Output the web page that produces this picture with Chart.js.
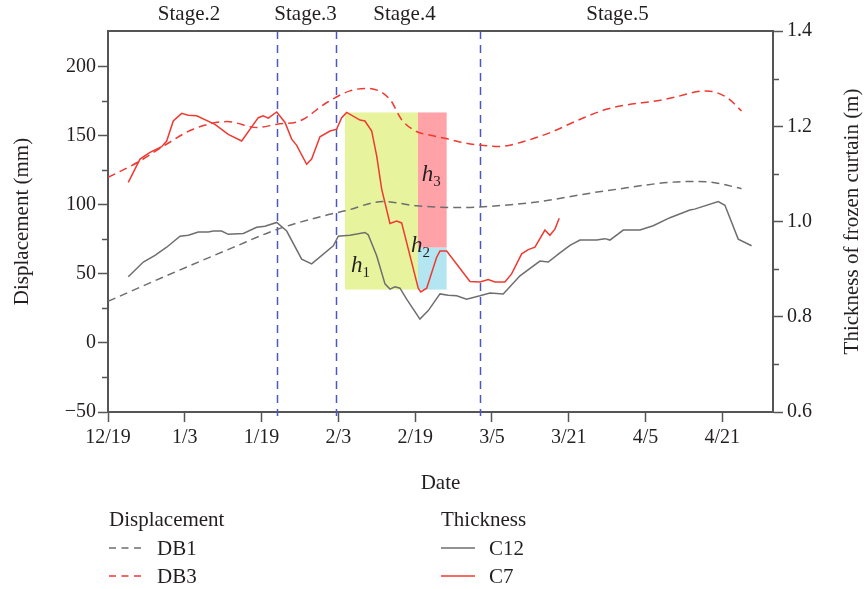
<!DOCTYPE html>
<html>
<head>
<meta charset="utf-8">
<script src="https://cdn.jsdelivr.net/npm/chart.js@4.4.1/dist/chart.umd.min.js"></script>
<style>
    html, body { margin: 0; padding: 0; background: #fff; }
</style>
</head>
<body>
<canvas id="chart" width="865" height="589"></canvas>
<script>
// x values are in "tick interval" units: 0 = 12/19, 1 = 1/3, ... 8 = 4/21
const tickLabels = ['12/19', '1/3', '1/19', '2/3', '2/19', '3/5', '3/21', '4/5', '4/21'];
const stageNames = ['Stage.2', 'Stage.3', 'Stage.4', 'Stage.5'];
const stageBounds = [2.197, 2.969, 4.844];

// Displacement (mm)
const db1X = [0, 0.76, 1.63, 2.2, 2.89, 3.09, 3.58, 4.02, 4.58, 4.84, 5.53, 6.49, 7.58, 7.88, 8.25];
const db1Y = [30, 48.5, 69, 82, 93, 95.5, 102.2, 99.1, 97.8, 98.3, 101.5, 110, 116.7, 116, 111.5];

const db3X = [0, 0.42, 0.76, 1.11, 1.55, 1.94, 2.2, 2.5, 2.85, 3.15, 3.37, 3.67, 3.82, 4.0, 4.2, 4.4,
    4.58, 4.84, 5.1, 5.37, 5.76, 6.15, 6.49, 6.75, 7.15, 7.36, 7.79, 8.06, 8.25];
const db3Y = [119.6, 131.6, 143.6, 154.5, 160, 155.7, 158.1, 160.5, 173.8, 182.2, 184, 176.2, 161.7, 153.3, 150.1, 147.8,
    145.3, 143, 142, 144.9, 152.1, 161.7, 168.9, 172, 175, 177.4, 182.2, 177.4, 167.7];

// Thickness of frozen curtain (m)
const c12X = [0.264, 0.46, 0.612, 0.764, 0.938, 1.046, 1.176, 1.306, 1.371, 1.48, 1.566, 1.762, 1.936, 2.044, 2.197,
    2.327, 2.522, 2.652, 2.934, 2.999, 3.064, 3.151, 3.346, 3.389, 3.499, 3.607, 3.672, 3.737, 3.802, 3.889,
    4.062, 4.171, 4.323, 4.431, 4.54, 4.67, 4.844, 4.974, 5.147, 5.365, 5.625, 5.733, 5.885, 6.016, 6.146,
    6.363, 6.471, 6.536, 6.71, 6.927, 7.1, 7.318, 7.578, 7.639, 7.947, 8.034, 8.207, 8.381];
const c12Y = [0.884, 0.915, 0.929, 0.946, 0.969, 0.971, 0.978, 0.978, 0.98, 0.98, 0.973, 0.975, 0.988, 0.99, 0.998,
    0.98, 0.921, 0.911, 0.949, 0.969, 0.97, 0.971, 0.977, 0.972, 0.928, 0.869, 0.858, 0.863, 0.86, 0.837,
    0.795, 0.813, 0.848, 0.845, 0.844, 0.837, 0.844, 0.85, 0.848, 0.886, 0.917, 0.915, 0.934, 0.95, 0.961,
    0.961, 0.964, 0.961, 0.982, 0.982, 0.991, 1.008, 1.024, 1.026, 1.042, 1.034, 0.963, 0.949];

const c7X = [0.264, 0.417, 0.547, 0.699, 0.764, 0.85, 0.96, 1.046, 1.155, 1.393, 1.566, 1.741, 1.957, 2.022, 2.087,
    2.197, 2.305, 2.392, 2.457, 2.587, 2.652, 2.76, 2.891, 2.978, 3.043, 3.108, 3.281, 3.346, 3.434, 3.499,
    3.564, 3.672, 3.759, 3.824, 4.04, 4.072, 4.15, 4.28, 4.323, 4.41, 4.714, 4.844, 4.952, 5.039, 5.169,
    5.256, 5.387, 5.473, 5.56, 5.69, 5.755, 5.82, 5.876];
const c7Y = [1.082, 1.131, 1.145, 1.157, 1.169, 1.211, 1.227, 1.223, 1.222, 1.204, 1.183, 1.169, 1.218, 1.222, 1.217,
    1.23, 1.208, 1.173, 1.16, 1.12, 1.131, 1.178, 1.19, 1.194, 1.218, 1.229, 1.213, 1.211, 1.19, 1.138,
    1.068, 0.996, 1.001, 0.997, 0.86, 0.852, 0.86, 0.925, 0.938, 0.938, 0.874, 0.873, 0.878, 0.873, 0.873,
    0.89, 0.932, 0.941, 0.946, 0.982, 0.971, 0.984, 1.007];

const zoneX = [3.086, 4.036, 4.41];
const zoneY = [1.229, 0.945, 0.857];

const FONT = "'Liberation Serif', 'DejaVu Serif', serif";
const AXIS = '#555555';
const TEXT = '#231f20';
const GRAY = '#6e6e6e';
const RED = '#ee3a32';
const STAGE_LINE = '#4a58c0';

const zip = (xs, ys) => xs.map((x, i) => ({ x, y: ys[i] }));

const series = [
    { label: 'DB1', data: zip(db1X, db1Y), color: GRAY, dash: [8, 5], axis: 'y', smooth: true },
    { label: 'DB3', data: zip(db3X, db3Y), color: RED, dash: [8, 5], axis: 'y', smooth: true },
    { label: 'C12', data: zip(c12X, c12Y), color: GRAY, dash: [], axis: 'y1', smooth: false },
    { label: 'C7', data: zip(c7X, c7Y), color: RED, dash: [], axis: 'y1', smooth: false },
];

const datasets = series.map(s => ({
    label: s.label,
    data: s.data,
    yAxisID: s.axis,
    borderColor: s.color,
    borderWidth: 1.5,
    borderDash: s.dash,
    pointRadius: 0,
    fill: false,
    tension: s.smooth ? 0.4 : 0,
    cubicInterpolationMode: s.smooth ? 'monotone' : 'default',
}));

const font = (size, style) => `${style || ''} ${size}px ${FONT}`;

const backgroundPlugin = {
    id: 'zones',
    beforeDatasetsDraw(chart) {
        const { ctx, chartArea, scales: { x, y1 } } = chart;
        const rect = (x0, x1, t0, t1, color) => {
            const px0 = x.getPixelForValue(x0), px1 = x.getPixelForValue(x1);
            const py0 = y1.getPixelForValue(t0), py1 = y1.getPixelForValue(t1);
            ctx.fillStyle = color;
            ctx.fillRect(px0, py0, px1 - px0, py1 - py0);
        };
        ctx.save();
        rect(zoneX[0], zoneX[1], zoneY[0], zoneY[2], '#e8f39d');
        rect(zoneX[1], zoneX[2], zoneY[0], zoneY[1], '#ffa3a8');
        rect(zoneX[1], zoneX[2], zoneY[1], zoneY[2], '#b3e6f0');

        // stage boundaries
        ctx.strokeStyle = STAGE_LINE;
        ctx.lineWidth = 1.5;
        ctx.setLineDash([8, 6]);
        stageBounds.forEach(v => {
            const px = Math.round(x.getPixelForValue(v)) + 0.5;
            ctx.beginPath();
            ctx.moveTo(px, chartArea.top);
            ctx.lineTo(px, chartArea.bottom + 4);
            ctx.stroke();
        });
        ctx.restore();
    }
};

const decorPlugin = {
    id: 'decor',
    afterDraw(chart) {
        const { ctx, chartArea, scales: { x, y, y1 } } = chart;
        ctx.save();

        // top frame line
        ctx.strokeStyle = AXIS;
        ctx.lineWidth = 2;
        ctx.beginPath();
        ctx.moveTo(chartArea.left - 1, chartArea.top);
        ctx.lineTo(chartArea.right + 1, chartArea.top);
        ctx.stroke();

        // minor ticks
        ctx.lineWidth = 1.5;
        [-25, 25, 75, 125, 175].forEach(v => {
            const py = Math.round(y.getPixelForValue(v)) + 0.5;
            ctx.beginPath();
            ctx.moveTo(chartArea.left - 6, py);
            ctx.lineTo(chartArea.left, py);
            ctx.stroke();
        });
        [0.7, 0.9, 1.1, 1.3].forEach(v => {
            const py = Math.round(y1.getPixelForValue(v)) + 0.5;
            ctx.beginPath();
            ctx.moveTo(chartArea.right, py);
            ctx.lineTo(chartArea.right + 6, py);
            ctx.stroke();
        });

        // stage labels
        ctx.fillStyle = TEXT;
        ctx.font = font(21);
        ctx.textAlign = 'center';
        ctx.textBaseline = 'middle';
        const stageLabelX = [1.055, 2.572, 3.861, 6.634];
        stageNames.forEach((name, i) => {
            ctx.fillText(name, x.getPixelForValue(stageLabelX[i]), 14);
        });

        // h labels
        ctx.textAlign = 'left';
        ctx.textBaseline = 'alphabetic';
        const hLabels = [['1', 3.164, 0.893], ['2', 3.945, 0.936], ['3', 4.085, 1.085]];
        hLabels.forEach(([sub, xv, tv]) => {
            const px = x.getPixelForValue(xv), py = y1.getPixelForValue(tv);
            ctx.font = font(23, 'italic');
            ctx.fillText('h', px, py);
            const w = ctx.measureText('h').width;
            ctx.font = font(15);
            ctx.fillText(sub, px + w, py + 5);
        });

        // right axis title, reads bottom to top
        ctx.save();
        ctx.translate(852, (chartArea.top + chartArea.bottom) / 2);
        ctx.rotate(-Math.PI / 2);
        ctx.textAlign = 'center';
        ctx.textBaseline = 'middle';
        ctx.font = font(21);
        ctx.fillText('Thickness of frozen curtain (m)', 0, 0);
        ctx.restore();

        // grouped legend
        const groups = [
            { title: 'Displacement', left: 109, items: [series[0], series[1]] },
            { title: 'Thickness', left: 441, items: [series[2], series[3]] },
        ];
        ctx.textBaseline = 'middle';
        groups.forEach(g => {
            ctx.font = font(21);
            ctx.fillStyle = TEXT;
            ctx.fillText(g.title, g.left, 520);
            g.items.forEach((s, i) => {
                const ly = 548 + i * 28;
                ctx.strokeStyle = s.color;
                ctx.lineWidth = 1.5;
                ctx.setLineDash(s.dash.length ? [7, 5.5] : []);
                ctx.beginPath();
                ctx.moveTo(g.left, ly);
                ctx.lineTo(g.left + 34, ly);
                ctx.stroke();
                ctx.setLineDash([]);
                ctx.fillText(s.label, g.left + 48, ly + 1);
            });
        });

        ctx.restore();
    }
};

const tickFont = { family: FONT, size: 20 };
const titleFont = { family: FONT, size: 21 };

new Chart(document.getElementById('chart'), {
    type: 'line',
    data: { datasets },
    options: {
        responsive: false,
        animation: false,
        devicePixelRatio: 1,
        layout: { padding: { top: 31, bottom: 93, left: 0, right: 0 } },
        plugins: {
            legend: { display: false },
            tooltip: { enabled: false },
        },
        scales: {
            x: {
                type: 'linear',
                min: 0,
                max: 8.66,
                afterBuildTicks: scale => { scale.ticks = tickLabels.map((_, i) => ({ value: i })); },
                afterFit: scale => { scale.height = 84; },
                ticks: {
                    autoSkip: false,
                    maxRotation: 0,
                    padding: 4,
                    color: TEXT,
                    font: tickFont,
                    callback: v => tickLabels[v],
                },
                grid: { drawOnChartArea: false, tickLength: 10, tickColor: AXIS, tickWidth: 1.5 },
                border: { color: AXIS, width: 2 },
                title: { display: true, text: 'Date', color: TEXT, font: titleFont, padding: { top: 0, bottom: 0 } },
            },
            y: {
                position: 'left',
                min: -50,
                max: 225.5,
                afterBuildTicks: scale => { scale.ticks = [-50, 0, 50, 100, 150, 200].map(value => ({ value })); },
                afterFit: scale => { scale.width = 108; },
                ticks: { padding: 2, color: TEXT, font: tickFont, callback: v => String(v).replace('-', '\u2212') },
                grid: { drawOnChartArea: false, tickLength: 10, tickColor: AXIS, tickWidth: 1.5 },
                border: { color: AXIS, width: 2 },
                title: { display: true, text: 'Displacement (mm)', color: TEXT, font: titleFont, padding: { top: 10, bottom: 0 } },
            },
            y1: {
                position: 'right',
                min: 0.6,
                max: 1.4,
                afterBuildTicks: scale => { scale.ticks = [0.6, 0.8, 1.0, 1.2, 1.4].map(value => ({ value })); },
                afterFit: scale => { scale.width = 92; },
                ticks: { padding: 4, color: TEXT, font: tickFont, callback: v => v.toFixed(1) },
                grid: { drawOnChartArea: false, tickLength: 10, tickColor: AXIS, tickWidth: 1.5 },
                border: { color: AXIS, width: 2 },
                title: { display: false },
            },
        },
    },
    plugins: [backgroundPlugin, decorPlugin],
});
</script>
</body>
</html>
